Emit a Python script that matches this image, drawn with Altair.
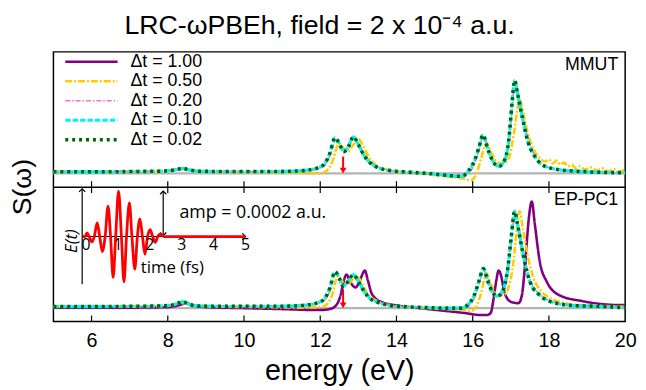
import altair as alt
import pandas as pd

# ---------------- text ----------------
TITLE = "LRC-ωPBEh, field = 2 x 10⁻⁴ a.u."
X_TITLE = "energy (eV)"
Y_TITLE = "S(ω)"
panel_names = ["MMUT", "EP-PC1"]
inset_texts = ["time (fs)", "E(t)", "amp = 0.0002 a.u."]

# ---------------- series ----------------
series = ["Δt = 1.00", "Δt = 0.50", "Δt = 0.20", "Δt = 0.10", "Δt = 0.02"]
x_ticks = [6, 8, 10, 12, 14, 16, 18, 20]
inner_ticks = [6, 8, 10, 12, 14, 16, 18]
pump_energy = [12.6]

# top panel (MMUT)
top_e_conv = [5.0, 6.0, 7.0, 7.8, 8.1, 8.3, 8.4, 8.55, 8.8, 9.5, 10.5, 11.1, 11.6, 11.9, 12.1, 12.25, 12.39, 12.5, 12.62, 12.75,
              12.87, 13.0, 13.15, 13.3, 13.5, 13.8, 14.2, 14.8, 15.3, 15.7, 15.9, 16.05, 16.17, 16.27, 16.4, 16.55, 16.68, 16.82, 16.95, 17.03,
              17.1, 17.18, 17.3, 17.45, 17.65, 17.9, 18.3, 18.8, 19.4, 20.0]
top_s_002 = [0.015, 0.015, 0.018, 0.022, 0.03, 0.045, 0.05, 0.035, 0.022, 0.018, 0.018, 0.02, 0.03, 0.05, 0.09, 0.20, 0.36, 0.30, 0.22, 0.28,
             0.37, 0.29, 0.18, 0.11, 0.06, 0.03, 0.015, 0.0, -0.02, -0.03, 0.03, 0.13, 0.27, 0.39, 0.24, 0.11, 0.07, 0.12, 0.35, 0.70,
             0.94, 0.80, 0.57, 0.32, 0.16, 0.07, 0.035, 0.02, 0.01, 0.005]
top_s_010 = [0.015, 0.015, 0.018, 0.022, 0.03, 0.045, 0.05, 0.035, 0.022, 0.018, 0.018, 0.02, 0.03, 0.05, 0.09, 0.20, 0.36, 0.30, 0.22, 0.28,
             0.37, 0.29, 0.18, 0.11, 0.06, 0.03, 0.015, 0.0, -0.02, -0.03, 0.03, 0.13, 0.27, 0.39, 0.24, 0.11, 0.07, 0.12, 0.35, 0.70,
             0.94, 0.80, 0.57, 0.32, 0.16, 0.07, 0.035, 0.02, 0.01, 0.005]
top_s_020 = [0.015, 0.015, 0.018, 0.022, 0.03, 0.042, 0.048, 0.036, 0.022, 0.018, 0.017, 0.018, 0.027, 0.045, 0.08, 0.17, 0.33, 0.31, 0.22, 0.26,
             0.36, 0.31, 0.20, 0.12, 0.065, 0.03, 0.015, -0.005, -0.025, -0.04, 0.0, 0.10, 0.24, 0.37, 0.27, 0.12, 0.07, 0.11, 0.31, 0.64,
             0.91, 0.84, 0.61, 0.35, 0.17, 0.075, 0.035, 0.02, 0.01, 0.005]
top_e_050 = [5.0, 7.0, 8.0, 8.4, 8.6, 9.0, 10.5, 11.5, 11.9, 12.1, 12.3, 12.49, 12.62, 12.73, 12.85, 13.0, 13.12, 13.3, 13.5, 13.8,
             14.2, 14.8, 15.3, 15.7, 15.95, 16.1, 16.22, 16.36, 16.5, 16.65, 16.8, 16.95, 17.08, 17.16, 17.23, 17.32, 17.45, 17.6, 17.75, 17.9,
             18.0, 18.1, 18.2, 18.3, 18.4, 18.5, 18.6, 18.7, 18.8, 18.95, 19.1, 19.25, 19.4, 19.55, 19.7, 19.85, 20.0]
top_s_050 = [0.015, 0.015, 0.025, 0.045, 0.035, 0.015, 0.01, 0.005, 0.0, 0.01, 0.10, 0.30, 0.25, 0.22, 0.28, 0.35, 0.28, 0.15, 0.07, 0.03,
             0.01, -0.01, -0.03, -0.05, -0.07, 0.0, 0.15, 0.31, 0.20, 0.11, 0.10, 0.16, 0.40, 0.62, 0.76, 0.62, 0.40, 0.24, 0.16, 0.12,
             0.14, 0.10, 0.13, 0.09, 0.11, 0.07, 0.09, 0.05, 0.07, 0.04, 0.06, 0.03, 0.05, 0.02, 0.04, 0.02, 0.04]

# bottom panel (EP-PC1)
bot_e_conv = [5.0, 6.0, 7.0, 7.8, 8.1, 8.3, 8.4, 8.55, 8.8, 9.5, 10.5, 11.1, 11.6, 11.9, 12.1, 12.25, 12.39, 12.5, 12.6, 12.73,
              12.87, 13.0, 13.15, 13.3, 13.5, 13.8, 14.2, 14.8, 15.3, 15.7, 15.86, 16.04, 16.17, 16.28, 16.4, 16.52, 16.64, 16.78, 16.92, 17.02,
              17.1, 17.18, 17.33, 17.5, 17.76, 18.19, 18.7, 19.15, 20.0]
bot_s_002 = [0.015, 0.015, 0.018, 0.022, 0.03, 0.055, 0.065, 0.04, 0.022, 0.018, 0.018, 0.02, 0.03, 0.05, 0.09, 0.20, 0.37, 0.30, 0.22, 0.27,
             0.34, 0.27, 0.17, 0.10, 0.06, 0.03, 0.015, 0.005, 0.0, 0.0, 0.03, 0.13, 0.28, 0.40, 0.27, 0.16, 0.12, 0.17, 0.40, 0.75,
             0.98, 0.84, 0.53, 0.27, 0.13, 0.05, 0.025, 0.02, 0.005]
bot_s_010 = [0.015, 0.015, 0.018, 0.022, 0.03, 0.055, 0.065, 0.04, 0.022, 0.018, 0.018, 0.02, 0.03, 0.05, 0.09, 0.20, 0.37, 0.30, 0.22, 0.27,
             0.34, 0.27, 0.17, 0.10, 0.06, 0.03, 0.015, 0.005, 0.0, 0.0, 0.03, 0.13, 0.28, 0.40, 0.27, 0.16, 0.12, 0.17, 0.40, 0.75,
             0.98, 0.84, 0.53, 0.27, 0.13, 0.05, 0.025, 0.02, 0.005]
bot_s_020 = [0.015, 0.015, 0.018, 0.022, 0.03, 0.05, 0.062, 0.042, 0.022, 0.018, 0.017, 0.018, 0.027, 0.045, 0.08, 0.17, 0.34, 0.31, 0.23, 0.26,
             0.33, 0.28, 0.18, 0.11, 0.065, 0.03, 0.015, 0.003, -0.005, -0.01, 0.01, 0.10, 0.25, 0.38, 0.30, 0.17, 0.12, 0.15, 0.35, 0.70,
             0.95, 0.88, 0.57, 0.29, 0.14, 0.055, 0.025, 0.02, 0.005]
bot_e_050 = [5.0, 7.0, 8.0, 8.35, 8.5, 8.7, 9.2, 10.5, 11.5, 11.9, 12.1, 12.3, 12.47, 12.6, 12.72, 12.83, 12.95, 13.08, 13.25, 13.5,
             13.8, 14.2, 14.8, 15.3, 15.7, 15.95, 16.1, 16.22, 16.36, 16.5, 16.65, 16.8, 16.95, 17.08, 17.16, 17.23, 17.31, 17.45, 17.6, 17.8,
             18.1, 18.6, 19.2, 20.0]
bot_s_050 = [0.015, 0.015, 0.025, 0.05, 0.05, 0.03, 0.015, 0.01, 0.005, 0.01, 0.02, 0.12, 0.33, 0.26, 0.24, 0.28, 0.33, 0.26, 0.14, 0.07,
             0.03, 0.01, 0.0, -0.01, -0.02, -0.03, 0.02, 0.15, 0.35, 0.22, 0.13, 0.13, 0.22, 0.50, 0.80, 0.98, 0.82, 0.52, 0.30, 0.17,
             0.09, 0.04, 0.025, 0.015]
bot_e_100 = [5.0, 7.0, 8.0, 8.3, 8.5, 8.65, 9.0, 10.0, 11.0, 12.0, 12.24, 12.41, 12.54, 12.62, 12.69, 12.78, 12.93, 13.05, 13.17, 13.25,
             13.36, 13.62, 14.05, 14.6, 15.2, 15.8, 16.2, 16.37, 16.47, 16.55, 16.62, 16.68, 16.75, 16.81, 16.9, 17.03, 17.2, 17.29, 17.38, 17.47,
             17.55, 17.63, 17.76, 17.94, 18.28, 18.89, 19.92, 20.0]
bot_s_100 = [0.005, 0.005, 0.01, 0.03, 0.05, 0.03, 0.01, 0.0, -0.01, -0.02, -0.01, 0.025, 0.14, 0.28, 0.34, 0.27, 0.21, 0.29, 0.38, 0.28,
             0.14, 0.06, 0.025, 0.0, -0.025, -0.05, -0.07, -0.07, -0.05, 0.10, 0.28, 0.38, 0.32, 0.20, 0.10, 0.06, 0.05, 0.13, 0.47, 0.90,
             1.08, 0.85, 0.47, 0.27, 0.13, 0.07, 0.03, 0.03]

# inset: laser pulse E(t)
pulse_t = [-0.1, -0.03, 0.03, 0.1, 0.18, 0.26, 0.35, 0.43, 0.51, 0.6, 0.69, 0.77, 0.85, 0.93, 1.02, 1.11, 1.19, 1.27, 1.36, 1.44,
           1.53, 1.61, 1.69, 1.77, 1.85, 1.93, 2.01, 2.09, 2.17, 2.25, 2.32, 2.45, 5.0]
pulse_E = [0.0, 0.0, 0.08, 0.0, -0.12, 0.0, 0.30, 0.0, -0.33, 0.0, 0.67, 0.0, -0.90, 0.0, 1.0, 0.0, -1.0, 0.0, 0.74, 0.0,
           -0.72, 0.0, 0.39, 0.0, -0.39, 0.0, 0.15, 0.0, -0.13, 0.0, 0.05, 0.0, 0.0]
inset_ticks = [0, 1, 2, 3, 4, 5]
amp_value = [1.0]

# ---------------- styles ----------------
line_colors = ["#800080", "#ffcc00", "#ff6ec7", "#00f0ff", "#006400"]
line_dashes = [[1, 0], [7, 2, 2, 2], [5, 2, 1.5, 2], [5.5, 2], [3, 4]]
line_widths = [2.6, 2.6, 1.6, 3.2, 3.6]
FONT = "Liberation Sans"
INSET_FONT = "Open Sans"

W, H = 579, 273
TOP_DOM, TOP_RNG = [-0.14, 1.23], [137, 0]
BOT_DOM, BOT_RNG = [-0.135, 1.225], [H, 137]
IN_X_DOM, IN_X_RNG = [0, 5], [33, 194.5]
IN_Y_DOM, IN_Y_RNG = [-1.05, 1.05], [235.3, 138.7]


def xq(field):
    return alt.X(f"{field}:Q", scale=alt.Scale(domain=[5, 20], nice=False, zero=False), axis=None)


def yq(field, dom, rng):
    return alt.Y(f"{field}:Q", scale=alt.Scale(domain=dom, range=rng, nice=False, zero=False), axis=None)


def xi(field):
    return alt.X(f"{field}:Q", scale=alt.Scale(domain=IN_X_DOM, range=IN_X_RNG, nice=False, zero=False), axis=None)


def yi(field):
    return alt.Y(f"{field}:Q", scale=alt.Scale(domain=IN_Y_DOM, range=IN_Y_RNG, nice=False, zero=False), axis=None)


layers = []


def add_panel(curves, dom, rng, arrow_top):
    base = pd.DataFrame({"E": [5.0, 20.0], "S": [0.0, 0.0]})
    layers.append(alt.Chart(base).mark_line(color="#b4b4b4", strokeWidth=2.2)
                  .encode(x=xq("E"), y=yq("S", dom, rng)))
    arrow = pd.DataFrame({"E": pump_energy, "S1": [arrow_top], "S2": [0.05], "S3": [0.028]})
    layers.append(alt.Chart(arrow).mark_rule(color="red", strokeWidth=2)
                  .encode(x=xq("E"), y=yq("S1", dom, rng), y2="S2:Q"))
    layers.append(alt.Chart(arrow).mark_point(shape="triangle-down", filled=True, color="red", size=45, opacity=1)
                  .encode(x=xq("E"), y=yq("S3", dom, rng)))
    for i, name in enumerate(series):
        if name not in curves:
            continue
        e, s = curves[name]
        df = pd.DataFrame({"E": e, "S": s})
        layers.append(alt.Chart(df).mark_line(color=line_colors[i], strokeDash=line_dashes[i],
                                              strokeWidth=line_widths[i], interpolate="monotone",
                                              strokeCap="butt")
                      .encode(x=xq("E"), y=yq("S", dom, rng)))


add_panel({series[1]: (top_e_050, top_s_050), series[2]: (top_e_conv, top_s_020),
           series[3]: (top_e_conv, top_s_010), series[4]: (top_e_conv, top_s_002)},
          TOP_DOM, TOP_RNG, 0.17)
add_panel({series[0]: (bot_e_100, bot_s_100), series[1]: (bot_e_050, bot_s_050),
           series[2]: (bot_e_conv, bot_s_020), series[3]: (bot_e_conv, bot_s_010),
           series[4]: (bot_e_conv, bot_s_002)},
          BOT_DOM, BOT_RNG, 0.19)

# divider between panels and inward ticks
layers.append(alt.Chart(pd.DataFrame({"d": [0]})).mark_rule(color="black", strokeWidth=1.5)
              .encode(x=alt.value(0), x2=alt.value(W), y=alt.value(137)))
tick_df = pd.DataFrame({"tick": inner_ticks})
layers.append(alt.Chart(tick_df).mark_rule(color="black", strokeWidth=1.2)
              .encode(x=xq("tick"), y=alt.value(131), y2=alt.value(143)))
layers.append(alt.Chart(tick_df).mark_rule(color="black", strokeWidth=1.2)
              .encode(x=alt.X("tick:Q", scale=alt.Scale(domain=[5, 20], nice=False, zero=False),
                              axis=alt.Axis(values=x_ticks, ticks=False, domain=False, grid=False,
                                            labelFontSize=20, labelFont=FONT, labelColor="black",
                                            labelPadding=9, labelFlush=False,
                                            title=X_TITLE, titleFont=FONT, titleFontSize=29,
                                            titleFontWeight="normal", titleColor="black", titlePadding=7)),
                      y=alt.value(H), y2=alt.value(H - 6)))

# legend (manual, top-left of top panel)
leg_y = alt.Y("series:N", scale=alt.Scale(type="point", domain=series, range=[10, 89], padding=0), axis=None)
for i, name in enumerate(series):
    layers.append(alt.Chart(pd.DataFrame({"series": [name]}))
                  .mark_rule(color=line_colors[i], strokeDash=line_dashes[i], strokeWidth=line_widths[i], strokeCap="butt")
                  .encode(x=alt.value(12), x2=alt.value(65), y=leg_y))
layers.append(alt.Chart(pd.DataFrame({"series": series}))
              .mark_text(align="left", baseline="middle", fontSize=18, font=FONT, color="black")
              .encode(x=alt.value(78), y=leg_y, text="series:N"))

# panel labels
layers.append(alt.Chart(pd.DataFrame({"label": [panel_names[0]]}))
              .mark_text(align="right", baseline="middle", fontSize=18, font=FONT, color="black")
              .encode(x=alt.value(572), y=alt.value(13), text="label:N"))
layers.append(alt.Chart(pd.DataFrame({"label": [panel_names[1]]}))
              .mark_text(align="right", baseline="middle", fontSize=18, font=FONT, color="black")
              .encode(x=alt.value(572), y=alt.value(150), text="label:N"))

# y title
layers.append(alt.Chart(pd.DataFrame({"label": [Y_TITLE]}))
              .mark_text(angle=270, baseline="middle", align="center", fontSize=27, font=FONT, color="black")
              .encode(x=alt.value(-31), y=alt.value(137), text="label:N"))

# ---------------- inset ----------------
haxis = pd.DataFrame({"t1": [-0.12], "t2": [5.0], "E": [0.0]})
layers.append(alt.Chart(haxis).mark_rule(color="black", strokeWidth=1.2)
              .encode(x=xi("t1"), x2="t2:Q", y=yi("E")))
layers.append(alt.Chart(pd.DataFrame({"t": [5.0], "E": [0.0]}))
              .mark_point(shape="M-1,-1L0,0L-1,1", filled=False, color="black", strokeWidth=1.2, size=40, opacity=1)
              .encode(x=xi("t"), y=yi("E")))
vaxis = pd.DataFrame({"t": [-0.12], "E1": [-1.05], "E2": [1.05]})
layers.append(alt.Chart(vaxis).mark_rule(color="black", strokeWidth=1.2)
              .encode(x=xi("t"), y=yi("E1"), y2="E2:Q"))
layers.append(alt.Chart(pd.DataFrame({"t": [-0.12], "E": [1.05]}))
              .mark_point(shape="M-1,1L0,0L1,1", filled=False, color="black", strokeWidth=1.2, size=40, opacity=1)
              .encode(x=xi("t"), y=yi("E")))
# amplitude double arrow
amp = pd.DataFrame({"t": [2.42], "E1": [0.02], "E2": amp_value})
layers.append(alt.Chart(amp).mark_rule(color="black", strokeWidth=1.2)
              .encode(x=xi("t"), y=yi("E1"), y2="E2:Q"))
layers.append(alt.Chart(amp).mark_point(shape="M-1,1L0,0L1,1", filled=False, color="black", strokeWidth=1.2, size=40, opacity=1)
              .encode(x=xi("t"), y=yi("E2")))
layers.append(alt.Chart(amp).mark_point(shape="M-1,-1L0,0L1,-1", filled=False, color="black", strokeWidth=1.2, size=40, opacity=1)
              .encode(x=xi("t"), y=yi("E1")))
# pulse
layers.append(alt.Chart(pd.DataFrame({"t": pulse_t, "E": pulse_E}))
              .mark_line(color="red", strokeWidth=2.8, interpolate="monotone")
              .encode(x=xi("t"), y=yi("E")))
# inset tick labels and texts
layers.append(alt.Chart(pd.DataFrame({"t": inset_ticks, "E": [-0.19] * len(inset_ticks)}))
              .mark_text(fontSize=16, font=INSET_FONT, color="black", baseline="middle", align="center")
              .encode(x=xi("t"), y=yi("E"), text="t:N"))
layers.append(alt.Chart(pd.DataFrame({"t": [1.72], "E": [-0.7], "label": [inset_texts[0]]}))
              .mark_text(fontSize=17, font=INSET_FONT, color="black", baseline="middle", align="left")
              .encode(x=xi("t"), y=yi("E"), text="label:N"))
layers.append(alt.Chart(pd.DataFrame({"t": [-0.45], "E": [-0.1], "label": [inset_texts[1]]}))
              .mark_text(fontSize=17, font=INSET_FONT, fontStyle="italic", color="black", baseline="middle",
                         align="center", angle=270)
              .encode(x=xi("t"), y=yi("E"), text="label:N"))
layers.append(alt.Chart(pd.DataFrame({"t": [2.93], "E": [0.52], "label": [inset_texts[2]]}))
              .mark_text(fontSize=18, font=INSET_FONT, color="black", baseline="middle", align="left")
              .encode(x=xi("t"), y=yi("E"), text="label:N"))

chart = (
    alt.layer(*layers)
    .resolve_scale(x="independent", y="independent")
    .properties(
        width=W, height=H,
        title=alt.TitleParams(text=TITLE, fontSize=27, font=FONT, fontWeight="normal", color="black",
                              anchor="middle", frame="group", dx=-20, offset=12),
        autosize=alt.AutoSizeParams(type="none"),
        padding={"left": 46, "top": 42, "right": 13, "bottom": 67},
    )
    .configure_view(stroke="black", strokeWidth=1.5)
)

chart.save("out.html", embed_options={"renderer": "svg", "actions": False})
